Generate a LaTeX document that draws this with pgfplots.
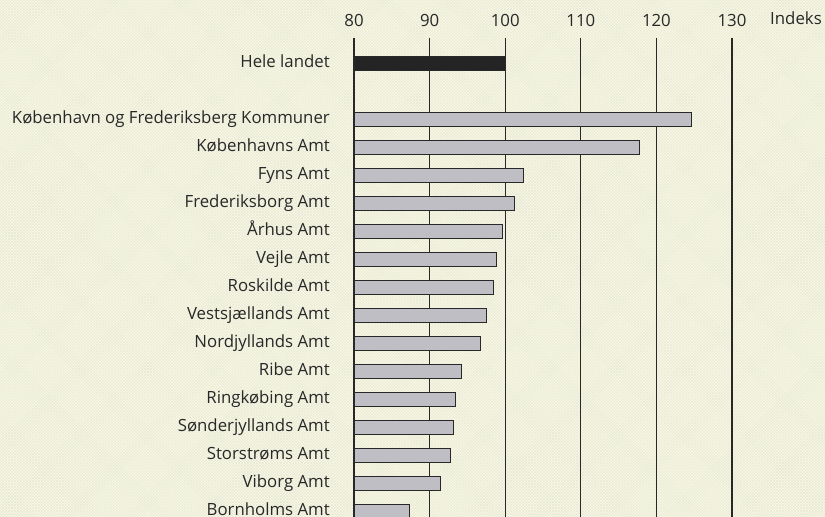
\documentclass[border=0pt]{standalone}
\usepackage{pgfplots}
\pgfplotsset{compat=1.18}
\usepackage{fontspec}
\setmainfont{Open Sans}
\usetikzlibrary{patterns}
\definecolor{bg}{RGB}{251,249,228}
\definecolor{hatch}{RGB}{230,233,215}
\definecolor{barfill}{RGB}{190,190,196}
\definecolor{ink}{RGB}{40,40,40}
\newcommand\lblfont{\fontsize{16.8bp}{19bp}\selectfont}
\begin{document}
\begin{tikzpicture}[x=1bp,y=1bp]
% baggrund
\fill[bg] (0,0) rectangle (825,517);
\fill[pattern=crosshatch, pattern color=hatch] (0,0) rectangle (825,517);
\begin{axis}[
    at={(354bp,0bp)}, anchor=south west,
    scale only axis, width=378bp, height=479bp,
    xmin=80, xmax=130,
    ymin=-0.893, ymax=16.21, y dir=reverse,
    xtick={80,90,...,130},
    xticklabel pos=upper,
    ytick={0,2,3,4,5,6,7,8,9,10,11,12,13,14,15,16},
    yticklabels={Hele landet, København og Frederiksberg Kommuner, Københavns Amt,
      Fyns Amt, Frederiksborg Amt, Århus Amt, Vejle Amt, Roskilde Amt,
      Vestsjællands Amt, Nordjyllands Amt, Ribe Amt, Ringkøbing Amt,
      Sønderjyllands Amt, Storstrøms Amt, Viborg Amt, Bornholms Amt},
    major tick length=0pt,
    axis line style={draw=none},
    xmajorgrids,
    grid style={ink, line width=1.2bp},
    tick label style={font=\lblfont, text=ink},
    /pgf/number format/assume math mode=true,
    xticklabel style={anchor=base, inner sep=0pt, yshift=11bp},
    yticklabel style={anchor=east, inner sep=0pt, text height=12bp, text depth=0pt,
      xshift=-24bp, yshift=1.2bp},
    xbar, bar width=0.5, bar shift=0pt,
]
\addplot[fill=ink!90!black, draw=ink, line width=1bp] coordinates {(100,0)};
\addplot[fill=barfill, draw=ink, line width=1bp] coordinates {
  (124.6,2) (117.7,3) (102.4,4) (101.2,5) (99.6,6) (98.9,7) (98.4,8)
  (97.5,9) (96.7,10) (94.2,11) (93.4,12) (93.2,13) (92.8,14) (91.5,15) (87.4,16)};
\end{axis}
\node[font=\lblfont, text=ink, anchor=base west, inner sep=0pt] at (770,492) {Indeks};
\pgfresetboundingbox
\path (0,0) rectangle (825,517);
\end{tikzpicture}
\end{document}
